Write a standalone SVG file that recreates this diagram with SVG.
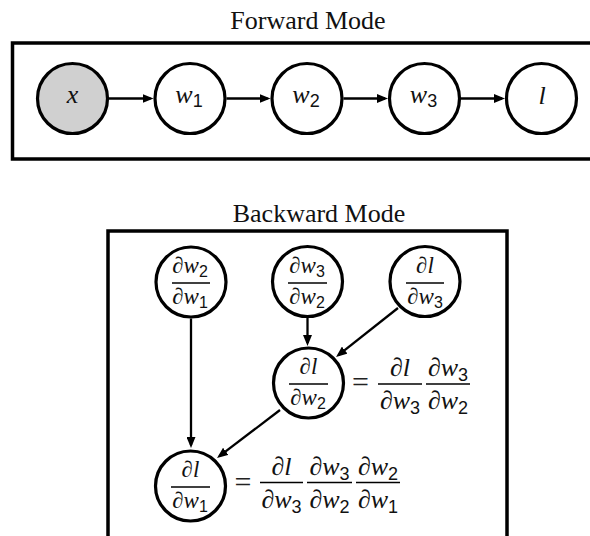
<svg xmlns="http://www.w3.org/2000/svg" width="590" height="536" viewBox="0 0 590 536">
<defs>
<style>
.box{fill:none;stroke:#000;stroke-width:3.5}
.node{fill:#fff;stroke:#000;stroke-width:3.2}
.shaded{fill:#d0d0d0}
.title{font-family:"Liberation Serif",serif;font-size:26px;text-anchor:middle;fill:#111}
.m{font-family:"Liberation Serif",serif;font-style:italic;text-anchor:middle;fill:#111}
.f24{font-size:26px}
.f23{font-size:23px}
.f26{font-size:26px}
.eq{font-family:"Liberation Serif",serif;font-size:30px;text-anchor:middle;fill:#222}
.sub{font-family:"Liberation Sans",sans-serif;font-style:normal}
.s17{font-size:18px}
.s16{font-size:16px}
.s18{font-size:18px}
.edge{stroke:#000;stroke-width:2.3;fill:none;marker-end:url(#arr)}
.bar{stroke:#000;stroke-width:1.6}
</style>
<marker id="arr" viewBox="0 0 11 9" markerWidth="11" markerHeight="9" refX="8" refY="4.5" orient="auto" markerUnits="userSpaceOnUse">
<path d="M0,0 L11,4.5 L0,9 z" fill="#000"/>
</marker>
</defs>
<rect width="590" height="536" fill="#fff"/>

<text class="title" x="308" y="28.5">Forward Mode</text>
<rect class="box" x="12.5" y="43" width="590" height="116"/>

<g id="connectors-forward">
<path class="edge" d="M109,98.5 H150.5"/>
<path class="edge" d="M226.5,98.5 H267.5"/>
<path class="edge" d="M343.5,98.5 H385"/>
<path class="edge" d="M461,98.5 H502"/>
</g>

<g id="f-x"><circle class="node shaded" cx="72.5" cy="98.5" r="35"/><text class="m f24" x="72.5" y="103">x</text></g>
<g id="f-w1"><circle class="node" cx="190" cy="98.5" r="35"/><text class="m f24" x="189" y="103">w<tspan class="sub s17" dy="4">1</tspan></text></g>
<g id="f-w2"><circle class="node" cx="307" cy="98.5" r="35"/><text class="m f24" x="306" y="103">w<tspan class="sub s17" dy="4">2</tspan></text></g>
<g id="f-w3"><circle class="node" cx="424.5" cy="98.5" r="35"/><text class="m f24" x="423.5" y="103">w<tspan class="sub s17" dy="4">3</tspan></text></g>
<g id="f-l"><circle class="node" cx="541.5" cy="98.5" r="35"/><text class="m f24" x="542" y="104">l</text></g>

<text class="title" x="319" y="222">Backward Mode</text>
<rect class="box" x="108" y="231" width="399" height="320"/>

<g id="connectors-backward">
<path class="edge" d="M191,318.5 V445"/>
<path class="edge" d="M307.5,318 V343"/>
<path class="edge" d="M398,308 L338.4,355.1"/>
<path class="edge" d="M280,410 L219.4,456.2"/>
</g>

<g id="b-dw2dw1"><circle class="node" cx="191" cy="282" r="35"/>
<text class="m f23" x="190" y="273">∂w<tspan class="sub s16" dy="4">2</tspan></text>
<line class="bar" x1="172" y1="283" x2="210" y2="283"/>
<text class="m f23" x="190" y="304">∂w<tspan class="sub s16" dy="4">1</tspan></text></g>

<g id="b-dw3dw2"><circle class="node" cx="307.5" cy="281.5" r="35"/>
<text class="m f23" x="307" y="273">∂w<tspan class="sub s16" dy="4">3</tspan></text>
<line class="bar" x1="288" y1="283" x2="327" y2="283"/>
<text class="m f23" x="307" y="304">∂w<tspan class="sub s16" dy="4">2</tspan></text></g>

<g id="b-dldw3"><circle class="node" cx="425" cy="281.5" r="35"/>
<text class="m f23" x="425" y="273">∂l</text>
<line class="bar" x1="406" y1="283" x2="444" y2="283"/>
<text class="m f23" x="425" y="304">∂w<tspan class="sub s16" dy="4">3</tspan></text></g>

<g id="b-dldw2"><circle class="node" cx="308.5" cy="383" r="35"/>
<text class="m f23" x="308.5" y="374">∂l</text>
<line class="bar" x1="289" y1="384" x2="328" y2="384"/>
<text class="m f23" x="308" y="405">∂w<tspan class="sub s16" dy="4">2</tspan></text>
<text class="eq" x="360.5" y="392">=</text>
<text class="m f26" x="400" y="376">∂l</text>
<line class="bar" x1="378" y1="384" x2="422" y2="384"/>
<text class="m f26" x="400" y="409">∂w<tspan class="sub s18" dy="5">3</tspan></text>
<text class="m f26" x="448" y="376">∂w<tspan class="sub s18" dy="5">3</tspan></text>
<line class="bar" x1="426" y1="384" x2="470" y2="384"/>
<text class="m f26" x="448" y="409">∂w<tspan class="sub s18" dy="5">2</tspan></text></g>

<g id="b-dldw1"><circle class="node" cx="190.5" cy="486" r="35"/>
<text class="m f23" x="190.5" y="477">∂l</text>
<line class="bar" x1="171" y1="487" x2="210" y2="487"/>
<text class="m f23" x="190" y="508">∂w<tspan class="sub s16" dy="4">1</tspan></text>
<text class="eq" x="243" y="492">=</text>
<text class="m f26" x="281.5" y="475">∂l</text>
<line class="bar" x1="260" y1="482.5" x2="303" y2="482.5"/>
<text class="m f26" x="281.5" y="508">∂w<tspan class="sub s18" dy="5">3</tspan></text>
<text class="m f26" x="329.5" y="475">∂w<tspan class="sub s18" dy="5">3</tspan></text>
<line class="bar" x1="307" y1="482.5" x2="352" y2="482.5"/>
<text class="m f26" x="329.5" y="508">∂w<tspan class="sub s18" dy="5">2</tspan></text>
<text class="m f26" x="378" y="475">∂w<tspan class="sub s18" dy="5">2</tspan></text>
<line class="bar" x1="356" y1="482.5" x2="400" y2="482.5"/>
<text class="m f26" x="378" y="508">∂w<tspan class="sub s18" dy="5">1</tspan></text></g>
</svg>
